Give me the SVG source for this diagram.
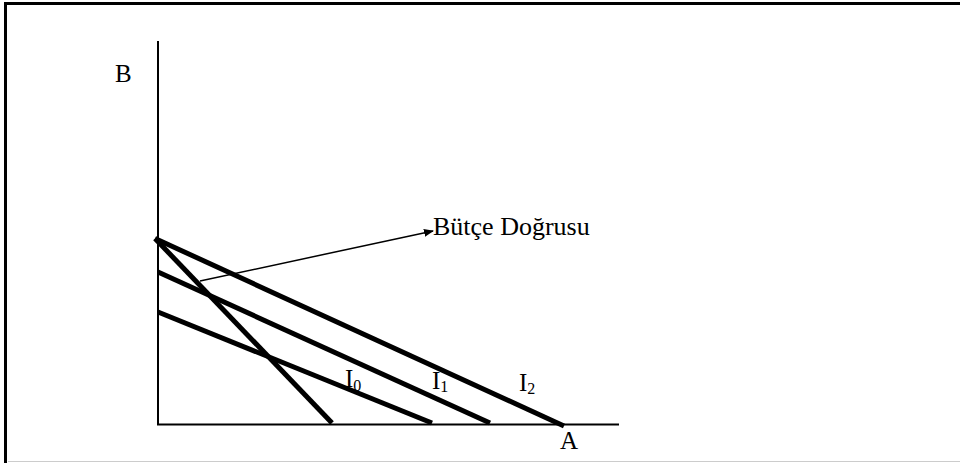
<svg xmlns="http://www.w3.org/2000/svg" width="960" height="463" viewBox="0 0 960 463">
  <style>
    .frame{fill:none;stroke:#000;stroke-width:3}
    .axis{fill:none;stroke:#000;stroke-width:2}
    .curve{fill:none;stroke:#000;stroke-width:5;stroke-linecap:butt}
    .thin{fill:none;stroke:#000;stroke-width:1.5}
    .lbl{font-size:25px}
    .sub{font-size:16px}
  </style>
  <defs>
    <marker id="arrow" markerWidth="10" markerHeight="8" refX="9" refY="4" orient="auto" markerUnits="userSpaceOnUse">
      <path d="M0,0 L10,4 L0,8 z" fill="#000"/>
    </marker>
  </defs>
  <rect width="960" height="463" fill="#fff"/>
  <path class="frame" d="M960,3.5 H5.5 V463"/>
  <line x1="8" y1="461.5" x2="960" y2="461.5" stroke="#ccc" stroke-width="1"/>

  <g font-family="'Liberation Serif', 'Times New Roman', 'DejaVu Serif', serif" fill="#000">
  <g id="axes">
    <line class="axis" x1="158" y1="41" x2="158" y2="425"/>
    <line class="axis" x1="157" y1="424.5" x2="619" y2="424.5"/>
    <text class="lbl" x="115" y="82">B</text>
    <text class="lbl" x="560" y="449">A</text>
  </g>

  <g id="budget-line">
    <line class="curve" x1="155" y1="238.5" x2="564" y2="426"/>
    <text class="lbl" x="519" y="391">I<tspan class="sub" dy="3">2</tspan></text>
  </g>
  <g id="steep-line">
    <line class="curve" x1="155" y1="238.5" x2="332" y2="423"/>
  </g>
  <g id="curve-I1">
    <line class="curve" x1="158" y1="272" x2="490" y2="423"/>
    <text class="lbl" x="432" y="389">I<tspan class="sub" dy="3">1</tspan></text>
  </g>
  <g id="curve-I0">
    <line class="curve" x1="158" y1="312" x2="432" y2="423"/>
    <text class="lbl" x="345" y="387">I<tspan class="sub" dy="4">0</tspan></text>
  </g>

  <g id="connectors">
    <line class="thin" x1="200" y1="281" x2="433" y2="231" marker-end="url(#arrow)"/>
  </g>
  <g id="budget-label">
    <text x="433" y="235" font-size="26">Bütçe Doğrusu</text>
  </g>
  </g>
</svg>
